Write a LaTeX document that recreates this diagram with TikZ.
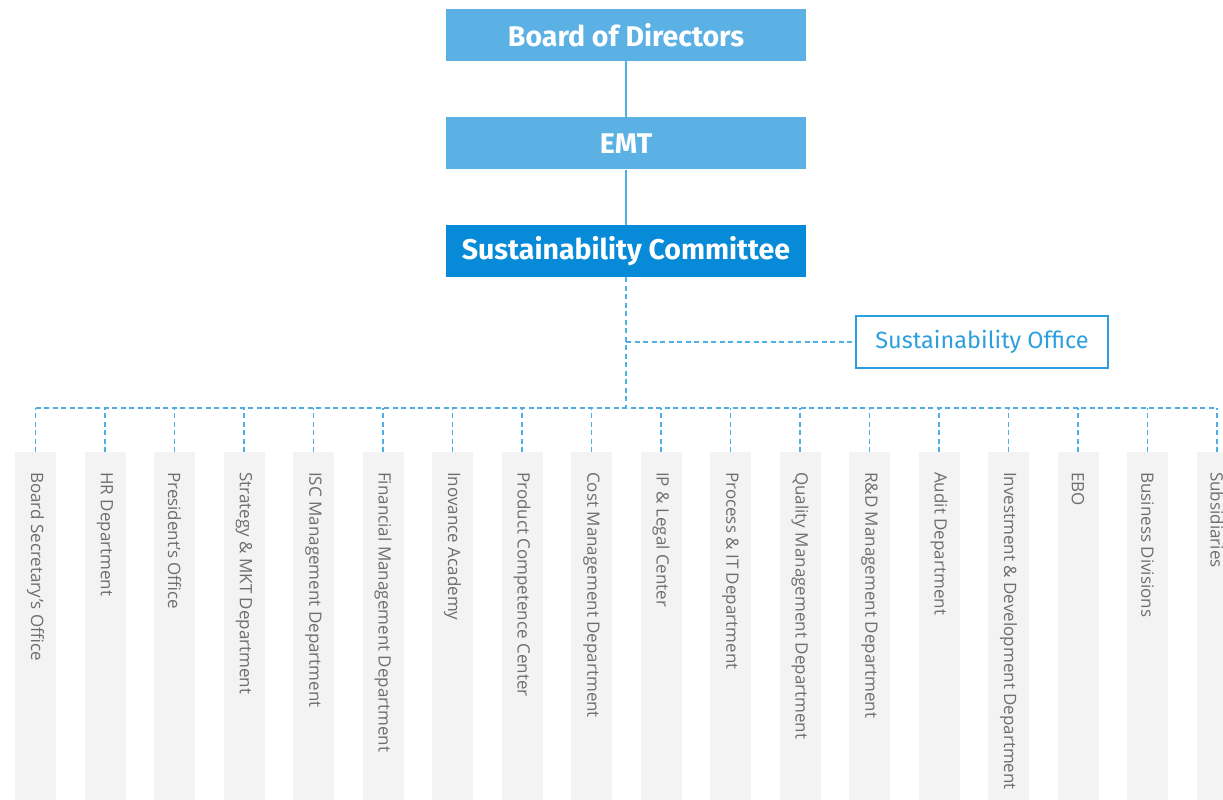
\documentclass[tikz,border=0pt]{standalone}
\usepackage{fontspec}
\setmainfont{Open Sans}
\newfontfamily\headfont{Fira Sans}
\usetikzlibrary{positioning}
\definecolor{boxblue}{HTML}{5BB1E4}
\definecolor{cmtblue}{HTML}{078AD7}
\definecolor{lineblue}{HTML}{4FAEE3}
\definecolor{officeblue}{HTML}{2D9FDC}
\definecolor{colgray}{HTML}{F3F3F3}
\definecolor{labelgray}{HTML}{6E6E6E}
\tikzset{
  topbox/.style={fill=boxblue, rectangle, minimum width=360pt, minimum height=52pt,
    text=white, font=\headfont\bfseries\fontsize{28.5}{28.5}\selectfont, inner sep=0pt},
  officebox/.style={draw=officeblue, line width=1.3pt, rectangle, minimum width=252pt,
    minimum height=52pt, text=officeblue, font=\headfont\fontsize{23.5}{23.5}\selectfont, inner sep=0pt},
  colbox/.style={fill=colgray, rectangle, minimum width=41pt, minimum height=348pt,
    anchor=north, inner sep=0pt},
  collabel/.style={rotate=-90, anchor=west, inner sep=0pt, text=labelgray,
    font=\fontsize{17}{17}\selectfont},
  solidlink/.style={draw=lineblue, line width=1.4pt},
  dashlink/.style={draw=lineblue, line width=1.4pt, dash pattern=on 5pt off 3.5pt}
}

\begin{document}
\begin{tikzpicture}[x=1pt,y=-1pt,node distance=56pt]
    \useasboundingbox (0,0) rectangle (1223,800);
    \node[topbox] (board) at (626,35) {Board of Directors};
    \node[topbox, below=of board] (emt) {EMT};
    \node[topbox, below=55pt of emt, fill=cmtblue] (cmt) {Sustainability Committee};
    \node[officebox] (office) at (982,342) {Sustainability Office};
    \coordinate (bus) at (626,408);
    \coordinate (tap) at (626,342);
    \draw[solidlink] (board) -- (emt);
    \draw[solidlink] (emt) -- (cmt);
    \draw[dashlink] (cmt.south) -- (bus);
    \draw[dashlink] (tap) -- (office.west);
    \foreach \lbl [count=\i] in {Board Secretary's Office, HR Department, President's Office,
        Strategy \& MKT Department, ISC Management Department, Financial Management Department,
        Inovance Academy, Product Competence Center, Cost Management Department,
        IP \& Legal Center, Process \& IT Department, Quality Management Department,
        R\&D Management Department, Audit Department, Investment \& Development Department,
        EBO, Business Divisions, Subsidiaries}
    {
        \node[colbox] (col\i) at ({35.5+69.5*(\i-1)},452) {};
        \node[collabel] (lab\i) at ([yshift=-20pt]col\i.north) {\lbl};
        \draw[dashlink] (col\i.north) -- (col\i.north |- bus);
    }
    \draw[dashlink] (col1.north |- bus) -- (col18.north |- bus);
\end{tikzpicture}
\end{document}
